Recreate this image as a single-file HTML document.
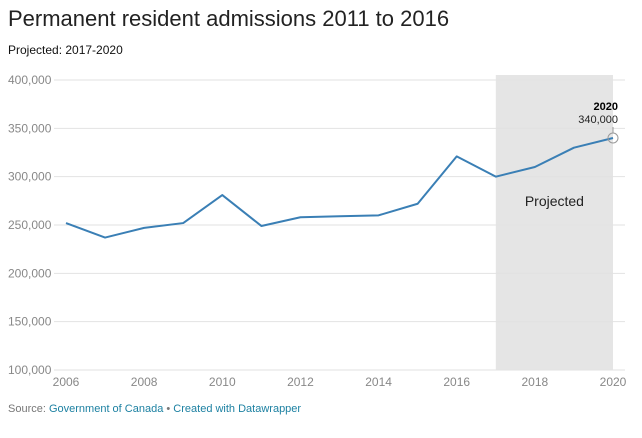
<!DOCTYPE html>
<html><head><meta charset="utf-8"><style>
body{margin:0;background:#fff;width:642px;height:438px;overflow:hidden;font-family:"Liberation Sans",Arial,sans-serif}
.t{position:absolute;left:8px;top:6px;font-size:22px;color:#222}
.s{position:absolute;left:8px;top:43px;font-size:12px;color:#111}
.f{position:absolute;left:8px;top:403px;font-size:11px;color:#777}
.f span{color:#1d81a2}
svg{position:absolute;left:0;top:0}
</style></head><body>
<div class="t">Permanent resident admissions 2011 to 2016</div>
<div class="s">Projected: 2017-2020</div>
<svg id="c" width="642" height="438"></svg>
<div class="f">Source: <span>Government of Canada</span> • <span>Created with Datawrapper</span></div>
<script>
const years=[2006,2007,2008,2009,2010,2011,2012,2013,2014,2015,2016,2017,2018,2019,2020];
const values=[252000,237000,247000,252000,281000,249000,258000,259000,260000,272000,321000,300000,310000,330000,340000];
const yTicks=[100000,150000,200000,250000,300000,350000,400000];
const xTicks=[2006,2008,2010,2012,2014,2016,2018,2020];
const projStart=2017, projEnd=2020;
const NS="http://www.w3.org/2000/svg",svg=document.getElementById('c');
const x=v=>66+(v-2006)*(613-66)/14;
const y=v=>370-(v-100000)*(290/300000);
function mk(t,a,p){const e=document.createElementNS(NS,t);for(const k in a)e.setAttribute(k,a[k]);(p||svg).appendChild(e);return e;}
const sh=mk('rect',{x:x(projStart),y:75,width:x(projEnd)-x(projStart),height:295,fill:'#e5e5e5'});


yTicks.forEach(v=>{
 const g=mk('line',{x1:54,x2:625,y1:y(v),y2:y(v),stroke:'#e2e2e2','stroke-width':1});
 
 
 const t=mk('text',{x:8,y:y(v)+4,'font-size':12,fill:'#888'});t.textContent=v.toLocaleString('en-US');
 
 
});
xTicks.forEach(v=>{
 const t=mk('text',{x:x(v),y:386,'font-size':12,fill:'#888','text-anchor':'middle'});t.textContent=v;
 
 
});
const pl=mk('text',{x:(x(projStart)+x(projEnd))/2,y:206,'font-size':14,fill:'#222','text-anchor':'middle'});pl.textContent='Projected';


const ln=mk('polyline',{points:years.map((d,i)=>x(d)+','+y(values[i])).join(' '),fill:'none',stroke:'#3a7fb5','stroke-width':2,'stroke-linejoin':'round'});


const li=years.length-1,lx=x(years[li]),ly=y(values[li]);
const c=mk('circle',{cx:lx,cy:ly,r:5,fill:'none',stroke:'#999','stroke-width':1});


mk('line',{x1:lx,x2:lx,y1:ly-5,y2:ly-11,stroke:'#999'});
const a1=mk('text',{x:lx+5,y:110,'font-size':11,'font-weight':'bold',fill:'#000','text-anchor':'end'});a1.textContent=years[li];


const a2=mk('text',{x:lx+5,y:123,'font-size':11,fill:'#222','text-anchor':'end'});a2.textContent=values[li].toLocaleString('en-US');


</script>
</body></html>
